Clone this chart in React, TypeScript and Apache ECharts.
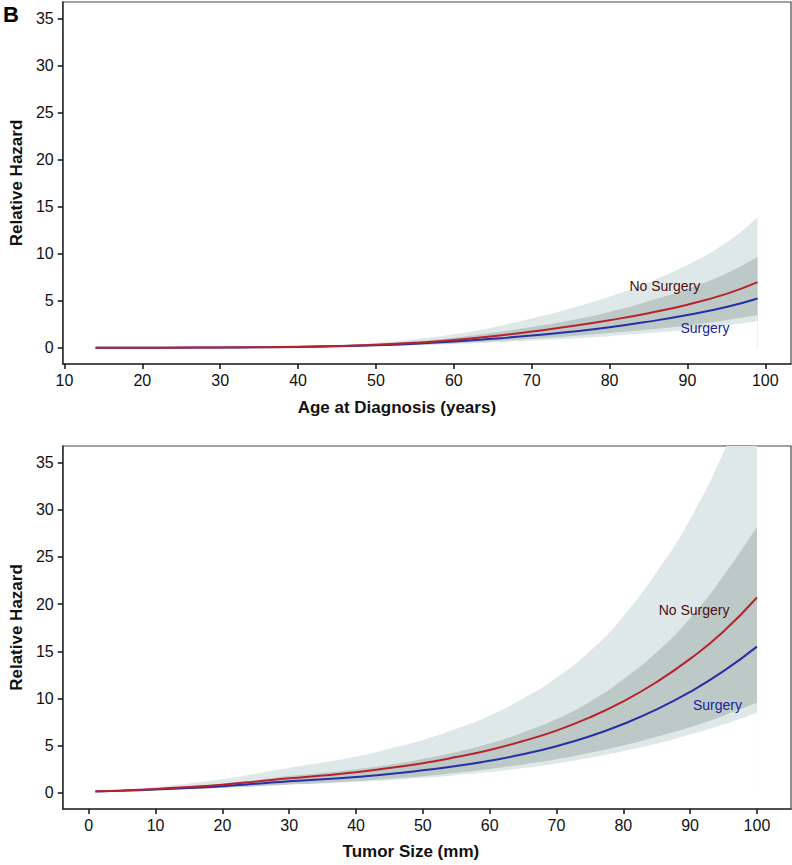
import React, { useEffect, useRef } from 'react';
import * as echarts from 'echarts';

// ---------- Panel 1: Age at Diagnosis ----------
const ageX = [14, 20, 25, 30, 35, 40, 45, 50, 55, 60, 65, 70, 75, 80, 85, 90, 95, 99];
const ageNoSurgery = [0.02, 0.03, 0.04, 0.06, 0.09, 0.14, 0.22, 0.34, 0.55, 0.85, 1.25, 1.75, 2.3, 2.95, 3.7, 4.6, 5.75, 7.0];
const ageNoSurgeryLower = [0.015, 0.022, 0.029, 0.041, 0.06, 0.09, 0.14, 0.21, 0.32, 0.49, 0.71, 0.98, 1.26, 1.59, 1.97, 2.4, 2.95, 3.5];
const ageNoSurgeryUpper = [0.026, 0.041, 0.056, 0.087, 0.135, 0.22, 0.35, 0.56, 0.94, 1.46, 2.19, 3.12, 4.19, 5.46, 6.96, 8.83, 11.2, 13.9];
const ageSurgery = [0.02, 0.025, 0.035, 0.05, 0.075, 0.115, 0.18, 0.28, 0.45, 0.68, 0.98, 1.32, 1.72, 2.2, 2.8, 3.5, 4.35, 5.26];
const ageSurgeryLower = [0.016, 0.019, 0.026, 0.036, 0.052, 0.077, 0.116, 0.177, 0.28, 0.42, 0.59, 0.79, 1.01, 1.26, 1.58, 1.94, 2.39, 2.86];
const ageSurgeryUpper = [0.025, 0.0325, 0.047, 0.07, 0.109, 0.17, 0.28, 0.44, 0.72, 1.1, 1.62, 2.22, 2.94, 3.83, 4.96, 6.3, 7.92, 9.68];

// ---------- Panel 2: Tumor Size ----------
const sizeX = [1, 5, 10, 15, 20, 25, 30, 35, 40, 45, 50, 55, 60, 65, 70, 75, 80, 85, 90, 95, 100];
const sizeNoSurgery = [0.17, 0.26, 0.42, 0.63, 0.88, 1.2, 1.55, 1.85, 2.2, 2.65, 3.15, 3.8, 4.55, 5.5, 6.6, 8.0, 9.7, 11.75, 14.2, 17.1, 20.7];
const sizeNoSurgeryLower = [0.16, 0.2, 0.28, 0.39, 0.53, 0.71, 0.9, 1.06, 1.26, 1.5, 1.77, 2.12, 2.53, 3.02, 3.57, 4.26, 5.03, 5.96, 6.96, 8.19, 9.58];
const sizeNoSurgeryUpper = [0.18, 0.34, 0.63, 1.01, 1.45, 2.04, 2.67, 3.22, 3.85, 4.69, 5.61, 6.8, 8.19, 10.0, 12.2, 15.0, 18.7, 23.4, 29.0, 36.1, 44.7];
const sizeSurgery = [0.15, 0.23, 0.36, 0.53, 0.72, 0.97, 1.25, 1.45, 1.7, 2.0, 2.4, 2.85, 3.4, 4.1, 4.95, 6.0, 7.3, 8.85, 10.7, 12.9, 15.5];
const sizeSurgeryLower = [0.146, 0.2, 0.29, 0.41, 0.53, 0.69, 0.87, 1.0, 1.16, 1.34, 1.6, 1.88, 2.21, 2.63, 3.13, 3.73, 4.42, 5.21, 6.18, 7.25, 8.52];
const sizeSurgeryUpper = [0.155, 0.265, 0.45, 0.69, 0.97, 1.36, 1.79, 2.1, 2.5, 2.98, 3.6, 4.33, 5.24, 6.4, 7.82, 9.66, 12.05, 14.9, 18.5, 23.0, 28.2];

// ---------- Ticks & labels ----------
const ageTicks = [10, 20, 30, 40, 50, 60, 70, 80, 90, 100];
const sizeTicks = [0, 10, 20, 30, 40, 50, 60, 70, 80, 90, 100];
const hazardTicks = [0, 5, 10, 15, 20, 25, 30, 35];
const seriesNames = ['No Surgery', 'Surgery'];

const FONT = "'Liberation Sans', Arial, Helvetica, sans-serif";
const LIGHT = '#dfe8e8';
const DARK = '#bdc9c7';
const RED = '#b8222c';
const BLUE = '#2630a4';
const RED_TEXT = '#4e1010';
const BLUE_TEXT = '#20239a';
const SMOOTH = 0.5;

// Bands are layered fills down to zero: union (light), overlap (dark), then restore.
function bandSeries(idx: number, xs: number[], nLo: number[], nHi: number[], sLo: number[], sHi: number[]) {
  const minLo = xs.map((_, i) => Math.min(nLo[i], sLo[i]));
  const maxHi = xs.map((_, i) => Math.max(nHi[i], sHi[i]));
  const ovLo = xs.map((_, i) => Math.max(nLo[i], sLo[i]));
  const ovHi = xs.map((_, i) => Math.max(ovLo[i], Math.min(nHi[i], sHi[i])));
  const layer = (ys: number[], color: string, z: number) => ({
    type: 'line', xAxisIndex: idx, yAxisIndex: idx, symbol: 'none', smooth: SMOOTH,
    silent: true, z, lineStyle: { width: 0, opacity: 0 },
    areaStyle: { color, opacity: 1, origin: 0 },
    data: xs.map((x, i) => [x, ys[i]]),
  });
  return [
    layer(maxHi, LIGHT, 1),
    layer(ovHi, DARK, 2),
    layer(ovLo, LIGHT, 3),
    layer(minLo, '#ffffff', 4),
  ];
}

function lineSeries(idx: number, xs: number[], ys: number[], color: string) {
  return {
    type: 'line', xAxisIndex: idx, yAxisIndex: idx, symbol: 'none', smooth: SMOOTH,
    silent: true, z: 5,
    lineStyle: { color, width: 2 },
    data: xs.map((x, i) => [x, ys[i]]),
  };
}

function labelSeries(idx: number, pts: [number, number, string, string][]) {
  return {
    type: 'scatter', xAxisIndex: idx, yAxisIndex: idx, symbolSize: 1, silent: true, z: 6,
    itemStyle: { color: 'rgba(0,0,0,0)', opacity: 1 },
    data: pts.map((p) => ({
      value: [p[0], p[1]],
      label: { show: true, position: 'inside', formatter: p[2], color: p[3], opacity: 1, fontSize: 14, fontFamily: FONT },
    })),
  };
}

function xAxis(idx: number, min: number, max: number, ticks: number[], name: string, gap: number, shift: number) {
  return {
    type: 'value', gridIndex: idx, min, max,
    name, nameLocation: 'middle', nameGap: gap,
    nameTextStyle: { fontSize: 17, fontWeight: 'bold', color: '#111', fontFamily: FONT, padding: [0, shift, 0, 0] },
    axisLine: { show: true, onZero: false, lineStyle: { color: '#333', width: 1.5 } },
    axisTick: { show: true, length: 5, customValues: ticks, lineStyle: { color: '#111', width: 1.5 } },
    axisLabel: { customValues: ticks, fontSize: 16, color: '#111', fontFamily: FONT, margin: 8 },
    splitLine: { show: false },
  };
}

function yAxis(idx: number) {
  return {
    type: 'value', gridIndex: idx, min: -1.7, max: 36.75,
    name: 'Relative Hazard', nameLocation: 'middle', nameGap: 35,
    nameTextStyle: { fontSize: 17, fontWeight: 'bold', color: '#111', fontFamily: FONT },
    axisLine: { show: true, onZero: false, lineStyle: { color: '#333', width: 1.5 } },
    axisTick: { show: true, length: 5, customValues: hazardTicks, lineStyle: { color: '#111', width: 1.5 } },
    axisLabel: { customValues: hazardTicks, fontSize: 16, color: '#111', fontFamily: FONT, margin: 9 },
    splitLine: { show: false },
  };
}

export default function App() {
  const ref = useRef<HTMLDivElement>(null);
  useEffect(() => {
    if (!ref.current) return;
    const chart = echarts.init(ref.current, undefined, { renderer: 'svg' });
    chart.setOption({
      animation: false,
      backgroundColor: '#ffffff',
      grid: [
        { left: 61, top: 2, width: 730, height: 362, show: true, borderColor: '#444', borderWidth: 1.2, backgroundColor: 'transparent' },
        { left: 61, top: 446, width: 730, height: 363, show: true, borderColor: '#444', borderWidth: 1.2, backgroundColor: 'transparent' },
      ],
      xAxis: [
        xAxis(0, 9.78, 103.3, ageTicks, 'Age at Diagnosis (years)', 35, 60),
        xAxis(1, -3.9, 105.1, sizeTicks, 'Tumor Size (mm)', 34, 32),
      ],
      yAxis: [yAxis(0), yAxis(1)],
      graphic: [
        { type: 'text', left: 3, top: 3, style: { text: 'B', font: `bold 22px ${FONT}`, fill: '#000' } },
      ],
      series: [
        ...bandSeries(0, ageX, ageNoSurgeryLower, ageNoSurgeryUpper, ageSurgeryLower, ageSurgeryUpper),
        lineSeries(0, ageX, ageSurgery, BLUE),
        lineSeries(0, ageX, ageNoSurgery, RED),
        labelSeries(0, [[87.1, 6.6, seriesNames[0], RED_TEXT], [92.25, 2.15, seriesNames[1], BLUE_TEXT]]),
        ...bandSeries(1, sizeX, sizeNoSurgeryLower, sizeNoSurgeryUpper, sizeSurgeryLower, sizeSurgeryUpper),
        lineSeries(1, sizeX, sizeSurgery, BLUE),
        lineSeries(1, sizeX, sizeNoSurgery, RED),
        labelSeries(1, [[90.6, 19.4, seriesNames[0], RED_TEXT], [94.1, 9.36, seriesNames[1], BLUE_TEXT]]),
      ],
    });
    return () => chart.dispose();
  }, []);
  return <div ref={ref} style={{ position: 'absolute', left: 0, top: 0, width: 792, height: 865 }} />;
}
